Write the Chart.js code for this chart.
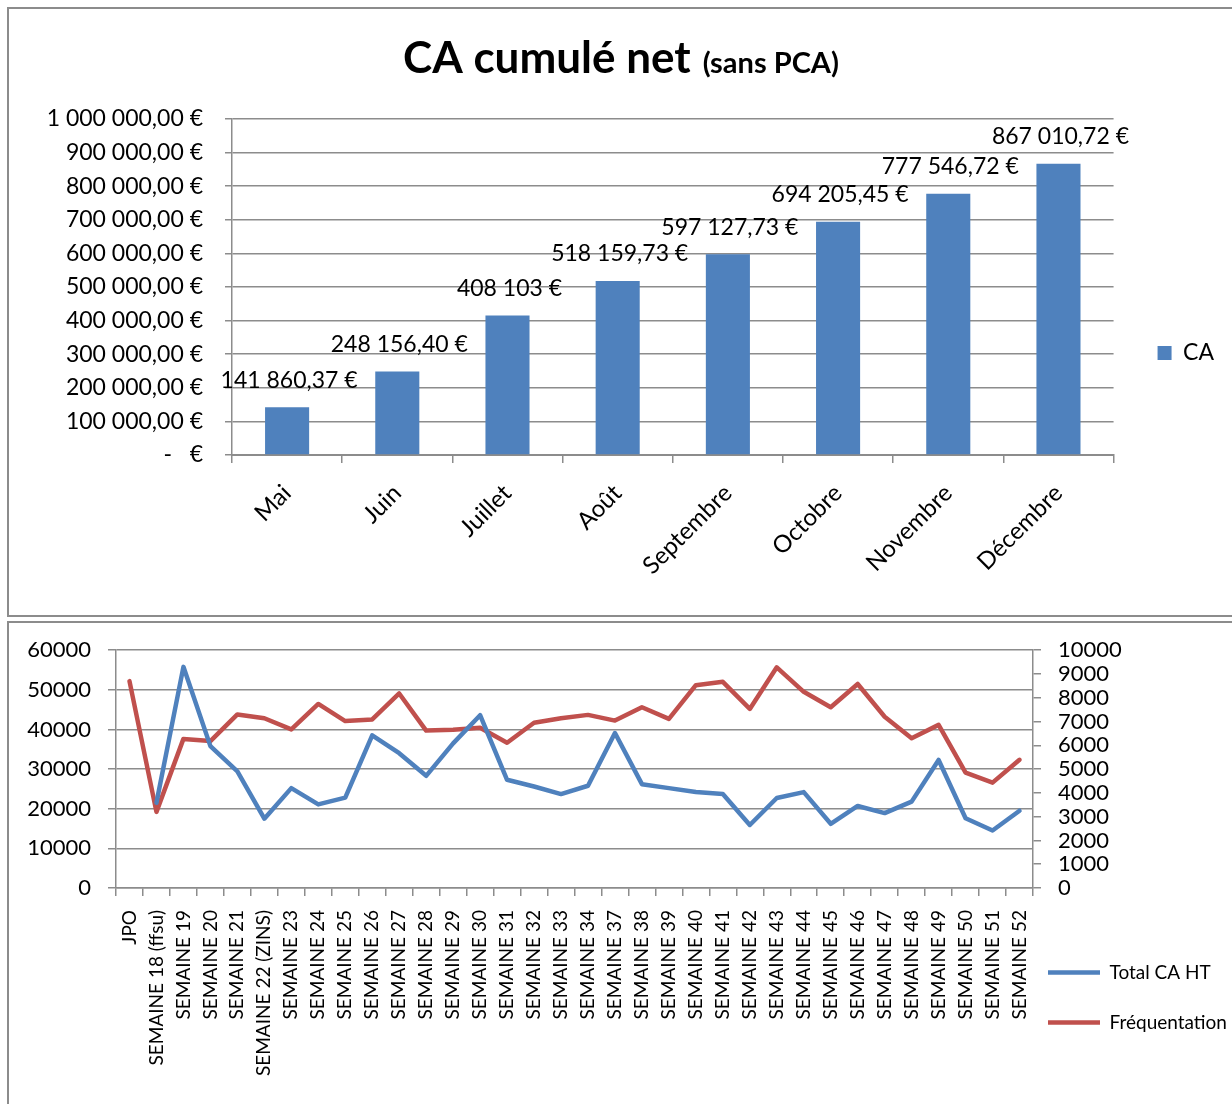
<!DOCTYPE html>
<html>
<head>
<meta charset="utf-8">
<title>CA cumulé net</title>
<script src="https://cdn.jsdelivr.net/npm/chart.js@4.4.1/dist/chart.umd.min.js"></script>
<style>
  html, body { margin: 0; padding: 0; background: #fff; overflow: hidden; width: 1232px; height: 1104px; }
  .frame { position: absolute; border: 2px solid #8c8c8c; box-sizing: border-box; }
  #frame1 { left: 7px; top: 7px; width: 1300px; height: 610px; }
  #frame2 { left: 7px; top: 621px; width: 1300px; height: 600px; }
  canvas { position: absolute; left: 0; }
  #caChart { top: 0; }
  #weekChart { top: 620px; }
</style>
</head>
<body>
<div class="frame" id="frame1"></div>
<div class="frame" id="frame2"></div>
<canvas id="caChart" width="1232" height="616"></canvas>
<canvas id="weekChart" width="1232" height="484"></canvas>
<script>
// top chart : cumulated turnover per month
const months = ['Mai', 'Juin', 'Juillet', 'Août', 'Septembre', 'Octobre', 'Novembre', 'Décembre'];
const caCumule = [141860.37, 248156.40, 414900, 518159.73, 597127.73, 694205.45, 777546.72, 867010.72];
const caLabels = ['141 860,37 €', '248 156,40 €', '408 103 €', '518 159,73 €', '597 127,73 €', '694 205,45 €', '777 546,72 €', '867 010,72 €'];
const caTicks = [0, 100000, 200000, 300000, 400000, 500000, 600000, 700000, 800000, 900000, 1000000];
const caTickLabels = ['-   €', '100 000,00 €', '200 000,00 €', '300 000,00 €', '400 000,00 €', '500 000,00 €',
  '600 000,00 €', '700 000,00 €', '800 000,00 €', '900 000,00 €', '1 000 000,00 €'];
const mainTitle = 'CA cumulé net';
const subTitle = '(sans PCA)';

// bottom chart : weekly turnover and attendance
const weeks = ['JPO', 'SEMAINE 18 (ffsu)', 'SEMAINE 19', 'SEMAINE 20', 'SEMAINE 21', 'SEMAINE 22 (ZINS)',
  'SEMAINE 23', 'SEMAINE 24', 'SEMAINE 25', 'SEMAINE 26', 'SEMAINE 27', 'SEMAINE 28', 'SEMAINE 29',
  'SEMAINE 30', 'SEMAINE 31', 'SEMAINE 32', 'SEMAINE 33', 'SEMAINE 34', 'SEMAINE 37', 'SEMAINE 38',
  'SEMAINE 39', 'SEMAINE 40', 'SEMAINE 41', 'SEMAINE 42', 'SEMAINE 43', 'SEMAINE 44', 'SEMAINE 45',
  'SEMAINE 46', 'SEMAINE 47', 'SEMAINE 48', 'SEMAINE 49', 'SEMAINE 50', 'SEMAINE 51', 'SEMAINE 52'];
const totalCaHT = [null, 21500, 55800, 35800, 29400, 17500, 25200, 21100, 22800, 38500, 34000, 28300, 36500,
  43600, 27300, 25600, 23700, 25800, 39100, 26200, 25200, 24200, 23700, 15900, 22700, 24200, 16200,
  20700, 18900, 21800, 32300, 17600, 14500, 19500];
const frequentation = [8700, 3200, 6270, 6180, 7300, 7140, 6670, 7740, 7020, 7090, 8180, 6620, 6650,
  6740, 6110, 6950, 7140, 7280, 7040, 7600, 7110, 8530, 8670, 7530, 9280, 8250, 7600,
  8580, 7200, 6300, 6860, 4850, 4430, 5390];
const caHTTicks = [0, 10000, 20000, 30000, 40000, 50000, 60000];
const freqTicks = [0, 1000, 2000, 3000, 4000, 5000, 6000, 7000, 8000, 9000, 10000];

const GRID = '#8c8c8c';
const BLUE = '#4F81BD';
const RED = '#C0504D';

Chart.defaults.font.family = 'Lato';
Chart.defaults.color = '#000';

// title with two font sizes
const titlePlugin = {
  id: 'caTitle',
  afterDraw(chart) {
    const ctx = chart.ctx;
    ctx.save();
    ctx.fillStyle = '#000';
    ctx.textBaseline = 'alphabetic';
    ctx.font = 'bold 44px Lato';
    const w1 = ctx.measureText(mainTitle).width;
    ctx.font = 'bold 29px Lato';
    const w2 = ctx.measureText(subTitle).width;
    const gap = 12;
    const x = 621 - (w1 + gap + w2) / 2;
    ctx.font = 'bold 44px Lato';
    ctx.fillText(mainTitle, x, 73);
    ctx.font = 'bold 29px Lato';
    ctx.fillText(subTitle, x + w1 + gap, 73);
    ctx.restore();
  }
};

// value labels above the bars
const barLabelPlugin = {
  id: 'barLabels',
  afterDatasetsDraw(chart) {
    const ctx = chart.ctx;
    const meta = chart.getDatasetMeta(0);
    ctx.save();
    ctx.font = '23px Lato';
    ctx.fillStyle = '#000';
    ctx.textAlign = 'center';
    ctx.textBaseline = 'middle';
    meta.data.forEach((bar, i) => {
      ctx.fillText(caLabels[i], bar.x + 2, bar.y - 27);
    });
    ctx.restore();
  }
};

// legend of the bottom chart sits under the right axis, like in the sheet
const legendPlacePlugin = {
  id: 'legendPlace',
  afterLayout(chart) {
    const lg = chart.legend;
    lg.left = 1017;
    lg.right = 1232;
    lg.width = 215;
    lg.top = 312;
    lg.bottom = 450;
    lg.height = 138;
  }
};

new Chart(document.getElementById('caChart'), {
  type: 'bar',
  data: {
    labels: months,
    datasets: [{
      label: 'CA',
      data: caCumule,
      backgroundColor: BLUE,
      borderWidth: 0,
      barPercentage: 0.4,
      categoryPercentage: 1,
    }],
  },
  options: {
    responsive: false,
    animation: false,
    layout: { padding: { top: 119, bottom: 29, left: 0, right: 8 } },
    plugins: {
      legend: {
        position: 'right',
        maxWidth: 111,
        labels: { boxWidth: 14, boxHeight: 14, padding: 44, color: '#000', font: { size: 23 } },
      },
      tooltip: { enabled: false },
    },
    scales: {
      x: {
        grid: { drawOnChartArea: false, color: GRID, lineWidth: 1.5, tickLength: 8, offset: true },
        border: { color: GRID, width: 2 },
        ticks: { color: '#000', font: { size: 24 }, minRotation: 45, maxRotation: 45, padding: 16, autoSkip: false },
        afterFit: (scale) => { scale.height = 132; },
      },
      y: {
        min: 0,
        max: 1000000,
        afterBuildTicks: (scale) => { scale.ticks = caTicks.map(v => ({ value: v })); },
        grid: { color: GRID, lineWidth: 1.5, tickLength: 7 },
        border: { color: GRID, width: 1.5 },
        ticks: { color: '#000', font: { size: 23 }, padding: 22, autoSkip: false, callback: (v, i) => caTickLabels[i] },
        afterFit: (scale) => { scale.width = 232; },
      },
    },
  },
  plugins: [titlePlugin, barLabelPlugin],
});

new Chart(document.getElementById('weekChart'), {
  type: 'line',
  data: {
    labels: weeks,
    datasets: [
      {
        label: 'Total CA HT',
        data: totalCaHT,
        yAxisID: 'y',
        borderColor: BLUE,
        backgroundColor: BLUE,
        borderWidth: 4.5,
        pointRadius: 0,
        borderCapStyle: 'round',
        borderJoinStyle: 'round',
        tension: 0,
      },
      {
        label: 'Fréquentation',
        data: frequentation,
        yAxisID: 'y1',
        borderColor: RED,
        backgroundColor: RED,
        borderWidth: 4.5,
        pointRadius: 0,
        borderCapStyle: 'round',
        borderJoinStyle: 'round',
        tension: 0,
      },
    ],
  },
  options: {
    responsive: false,
    animation: false,
    layout: { padding: { top: 30, bottom: 0, left: 0, right: 0 } },
    plugins: {
      legend: {
        position: 'right',
        align: 'start',
        maxWidth: 1,
        labels: {
          usePointStyle: true,
          pointStyle: 'line',
          pointStyleWidth: 52,
          padding: 31,
          color: '#000',
          font: { size: 19 },
        },
      },
      tooltip: { enabled: false },
    },
    scales: {
      x: {
        offset: true,
        grid: { offset: true, drawOnChartArea: false, color: GRID, lineWidth: 1.5, tickLength: 8 },
        border: { color: GRID, width: 1.5 },
        ticks: { color: '#000', font: { size: 19 }, minRotation: 90, maxRotation: 90, padding: 14, autoSkip: false },
        afterFit: (scale) => { scale.height = 216; },
      },
      y: {
        position: 'left',
        min: 0,
        max: 60000,
        afterBuildTicks: (scale) => { scale.ticks = caHTTicks.map(v => ({ value: v })); },
        grid: { color: GRID, lineWidth: 1.5, tickLength: 8 },
        border: { color: GRID, width: 1.5 },
        ticks: { color: '#000', font: { size: 22 }, padding: 17, autoSkip: false, callback: (v) => String(v) },
        afterFit: (scale) => { scale.width = 116; },
      },
      y1: {
        position: 'right',
        min: 0,
        max: 10000,
        afterBuildTicks: (scale) => { scale.ticks = freqTicks.map(v => ({ value: v })); },
        grid: { drawOnChartArea: false, color: GRID, lineWidth: 1.5, tickLength: 8 },
        border: { color: GRID, width: 1.5 },
        ticks: { color: '#000', font: { size: 22 }, padding: 17, autoSkip: false, callback: (v) => String(v) },
        afterFit: (scale) => { scale.width = 198; },
      },
    },
  },
  plugins: [legendPlacePlugin],
});
</script>
</body>
</html>
